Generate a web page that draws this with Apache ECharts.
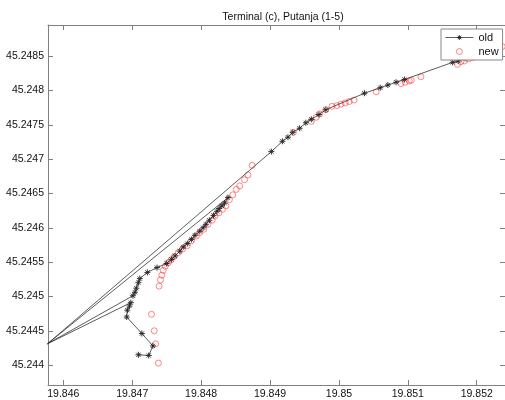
<!DOCTYPE html>
<html lang="en">

<head>
    <meta charset="UTF-8">
    <title>Terminal (c), Putanja (1-5)</title>
    <script type="text/javascript" src="https://cdn.jsdelivr.net/npm/echarts@6/dist/echarts.min.js"></script>
    <style>
        html, body { margin: 0; padding: 0; background: #fff; }
    </style>
</head>

<body>
    <div id="main" style="width: 505px; height: 400px;"></div>

    <script type="text/javascript">
        // old trajectory (lon / lat), in the order it was recorded
        var oldLon = [19.84709, 19.84724, 19.84730, 19.84714, 19.84692, 19.84693, 19.84696, 19.84698,
            19.84577,
            19.84701, 19.84704, 19.84706, 19.84709, 19.84711, 19.84722, 19.84736, 19.84750,
            19.84757, 19.84762, 19.84769, 19.84774, 19.84780, 19.84786, 19.84791, 19.84798,
            19.84803, 19.84807, 19.84812, 19.84818, 19.84823, 19.84826, 19.84830, 19.84834, 19.84839,
            19.84577,
            19.84902, 19.84918, 19.84926, 19.84933, 19.84943, 19.84952, 19.84960, 19.84971, 19.84981,
            19.85037, 19.85060, 19.85071, 19.85083, 19.85095, 19.85165, 19.85173, 19.85183, 19.85200, 19.85225];
        var oldLat = [45.24415, 45.24414, 45.24428, 45.24446, 45.24470, 45.24480, 45.24486, 45.24491,
            45.24431,
            45.24501, 45.24506, 45.24512, 45.24520, 45.24526, 45.24535, 45.24542, 45.24548,
            45.24554, 45.24559, 45.24566, 45.24572, 45.24577, 45.24583, 45.24589, 45.24595,
            45.24600, 45.24605, 45.24611, 45.24618, 45.24624, 45.24628, 45.24632, 45.24636, 45.24644,
            45.24431,
            45.24711, 45.24726, 45.24732, 45.24739, 45.24745, 45.24753, 45.24758, 45.24765, 45.24772,
            45.24796, 45.24804, 45.24808, 45.24812, 45.24816, 45.24841, 45.24843, 45.24847, 45.24852, 45.24859];

        // new positions
        var newLon = [19.84738, 19.84734, 19.84732, 19.84728, 19.84739, 19.84741, 19.84743, 19.84745,
            19.84748, 19.84752, 19.84756, 19.84761, 19.84767, 19.84773, 19.84780, 19.84786, 19.84793,
            19.84798, 19.84804, 19.84810, 19.84816, 19.84820, 19.84826, 19.84831, 19.84836, 19.84841,
            19.84846, 19.84851, 19.84856, 19.84863, 19.84868, 19.84874,
            19.84934, 19.84960, 19.84967, 19.84972, 19.84981, 19.84990, 19.84997, 19.85003, 19.85009,
            19.85015, 19.85022, 19.85054, 19.85090, 19.85096, 19.85102, 19.85105, 19.85119,
            19.85172, 19.85177, 19.85182, 19.85188, 19.85194, 19.85237];
        var newLat = [45.24403, 45.24431, 45.24450, 45.24474, 45.24515, 45.24524, 45.24531, 45.24538,
            45.24544, 45.24549, 45.24553, 45.24558, 45.24564, 45.24569, 45.24574, 45.24581, 45.24588,
            45.24593, 45.24598, 45.24605, 45.24611, 45.24617, 45.24622, 45.24627, 45.24632, 45.24641,
            45.24648, 45.24656, 45.24661, 45.24670, 45.24677, 45.24691,
            45.24739, 45.24755, 45.24761, 45.24766, 45.24772, 45.24777, 45.24778, 45.24780, 45.24782,
            45.24784, 45.24786, 45.24798, 45.24810, 45.24812, 45.24814, 45.24815, 45.24820,
            45.24838, 45.24842, 45.24843, 45.24846, 45.24848, 45.24864];

        var xTicks = [19.846, 19.847, 19.848, 19.849, 19.85, 19.851, 19.852];
        var yTicks = [45.244, 45.2445, 45.245, 45.2455, 45.246, 45.2465, 45.247, 45.2475, 45.248, 45.2485];

        var xMin = 19.845778, xMax = 19.852410;
        var yMin = 45.243710, yMax = 45.248954;

        function pairs(a, b) {
            var out = [];
            for (var i = 0; i < a.length; i++) out.push([a[i], b[i]]);
            return out;
        }

        function fmt(v) {
            return String(parseFloat(v.toFixed(4)));
        }

        // matlab style '*' marker
        var starPath = 'path://M5,0L5,10M0,5L10,5M1.5,1.5L8.5,8.5M1.5,8.5L8.5,1.5';
        var axisColor = '#808080';
        var font = '"Liberation Sans", Arial, sans-serif';

        var myChart = echarts.init(document.getElementById('main'));

        myChart.setOption({
            animation: false,
            backgroundColor: '#fff',
            title: {
                text: 'Terminal (c), Putanja (1-5)',
                left: 278,
                top: 7,
                textAlign: 'center',
                textStyle: { fontFamily: font, fontSize: 10.5, fontWeight: 'normal', color: '#111' }
            },
            legend: {
                orient: 'vertical',
                left: 441,
                top: 29,
                padding: [2, 4],
                itemGap: 1,
                itemWidth: 28,
                itemHeight: 6,
                backgroundColor: '#fff',
                borderColor: '#888',
                borderWidth: 1,
                borderRadius: 0,
                textStyle: { fontFamily: font, fontSize: 11, color: '#111', lineHeight: 13 },
                data: [{
                    name: 'old',
                    itemStyle: { color: '#000', borderColor: '#222', borderWidth: 0.9 },
                    lineStyle: { color: '#333', width: 0.8 }
                }, {
                    name: 'new',
                    itemStyle: { color: 'rgba(255,255,255,0)', borderColor: '#ff2a2a', borderWidth: 0.7 }
                }]
            },
            grid: { left: 48, top: 25, width: 458, height: 361 },
            xAxis: [{
                type: 'value', min: xMin, max: xMax, position: 'bottom',
                axisLine: { lineStyle: { color: axisColor, width: 1 } },
                axisTick: { inside: true, length: 5, customValues: xTicks, lineStyle: { color: axisColor } },
                axisLabel: { customValues: xTicks, formatter: fmt, margin: 4, fontFamily: font, fontSize: 10.5, color: '#111' },
                splitLine: { show: false }
            }, {
                type: 'value', min: xMin, max: xMax, position: 'top',
                axisLine: { lineStyle: { color: axisColor, width: 1 } },
                axisTick: { inside: true, length: 5, customValues: xTicks, lineStyle: { color: axisColor } },
                axisLabel: { show: false },
                splitLine: { show: false }
            }],
            yAxis: [{
                type: 'value', min: yMin, max: yMax, position: 'left',
                axisLine: { lineStyle: { color: axisColor, width: 1 } },
                axisTick: { inside: true, length: 5, customValues: yTicks, lineStyle: { color: axisColor } },
                axisLabel: { customValues: yTicks, formatter: fmt, margin: 4, fontFamily: font, fontSize: 10.5, color: '#111' },
                splitLine: { show: false }
            }, {
                type: 'value', min: yMin, max: yMax, position: 'right',
                axisLine: { lineStyle: { color: axisColor, width: 1 } },
                axisTick: { inside: true, length: 5, customValues: yTicks, lineStyle: { color: axisColor } },
                axisLabel: { show: false },
                splitLine: { show: false }
            }],
            series: [{
                name: 'old',
                type: 'line',
                data: pairs(oldLon, oldLat),
                symbol: starPath,
                symbolSize: 6,
                showAllSymbol: true,
                clip: true,
                lineStyle: { color: '#333', width: 0.8 },
                itemStyle: { color: '#000', borderColor: '#222', borderWidth: 0.9 }
            }, {
                name: 'new',
                type: 'scatter',
                data: pairs(newLon, newLat),
                symbol: 'circle',
                symbolSize: 6,
                clip: true,
                itemStyle: { color: 'rgba(255,255,255,0)', borderColor: '#ff2a2a', borderWidth: 0.7 }
            }]
        });
    </script>

</body>

</html>
